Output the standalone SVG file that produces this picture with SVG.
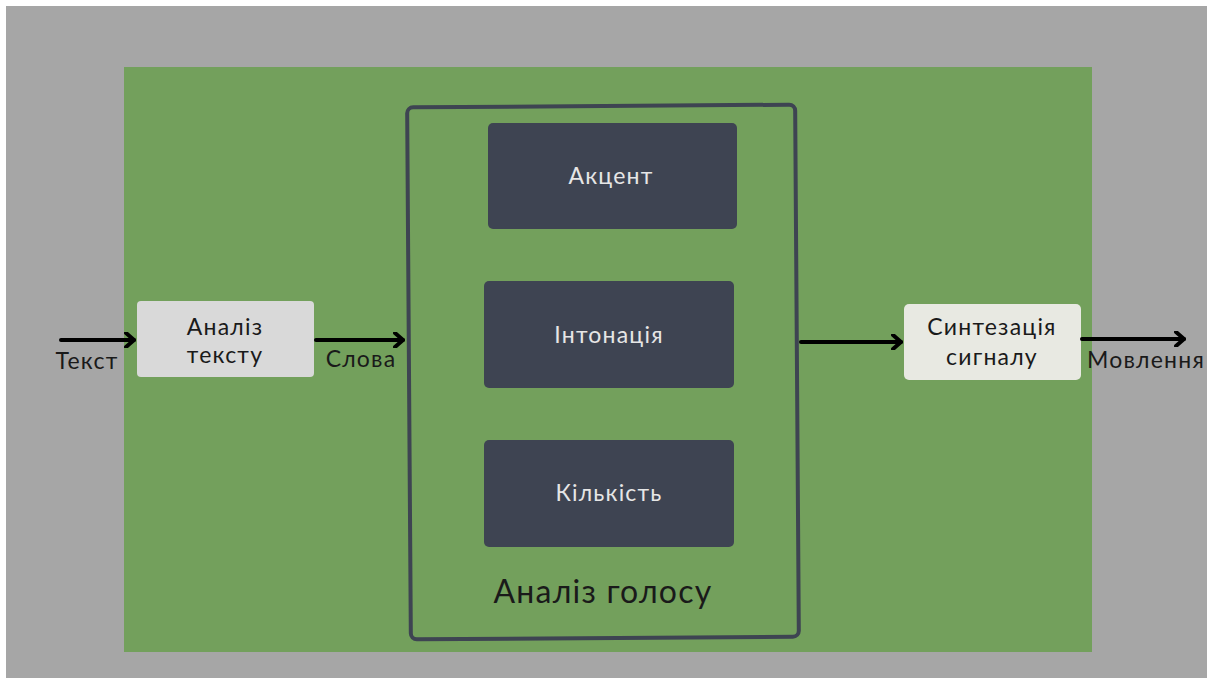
<svg xmlns="http://www.w3.org/2000/svg" width="1207" height="678" viewBox="0 0 1207 678">
  <style>
    .lbl { font-family: Lato, "Open Sans", "Liberation Sans", sans-serif; font-size: 23px; letter-spacing: 1.2px; text-anchor: middle; }
    .dark { fill: #1a1a1a; }
    .light { fill: #e6e6e6; }
    .inner { fill: #3e4452; }
    .wire { fill: none; stroke: #000; stroke-width: 4; stroke-linecap: round; stroke-linejoin: round; }
  </style>
  <defs>
    <marker id="chev" viewBox="0 0 12 16" refX="10" refY="8" markerWidth="12" markerHeight="16" markerUnits="userSpaceOnUse" orient="auto">
      <polyline points="2,1 10,8 2,15" fill="none" stroke="#000" stroke-width="4" stroke-linecap="round" stroke-linejoin="round"/>
    </marker>
  </defs>

  <!-- page background -->
  <rect x="0" y="0" width="1207" height="678" fill="#ffffff"/>
  <rect x="6" y="6" width="1201" height="672" fill="#a6a6a6"/>
  <rect x="124" y="67" width="968" height="585" fill="#73a05c"/>

  <!-- voice analysis frame -->
  <g id="voice-analysis">
    <rect x="409" y="106" width="388" height="532" rx="6" fill="none" stroke="#3e4452" stroke-width="4" transform="rotate(-0.4 603 372)"/>
    <text class="lbl dark" x="603" y="603" style="font-size:32px">Аналіз голосу</text>
  </g>

  <g id="accent">
    <rect class="inner" x="488" y="123" width="249" height="106" rx="5"/>
    <text class="lbl light" x="611" y="184">Акцент</text>
  </g>

  <g id="intonation">
    <rect class="inner" x="484" y="281" width="250" height="107" rx="5"/>
    <text class="lbl light" x="609" y="343">Інтонація</text>
  </g>

  <g id="quantity">
    <rect class="inner" x="484" y="440" width="250" height="107" rx="5"/>
    <text class="lbl light" x="609" y="501">Кількість</text>
  </g>

  <g id="text-analysis">
    <rect x="137" y="301" width="177" height="76" rx="4" fill="#d9d9d9"/>
    <text class="lbl dark" x="225" y="335">Аналіз</text>
    <text class="lbl dark" x="225" y="363">тексту</text>
  </g>

  <g id="signal-synthesis">
    <rect x="904" y="304" width="177" height="76" rx="5" fill="#e8e9e2"/>
    <text class="lbl dark" x="992" y="335">Синтезація</text>
    <text class="lbl dark" x="992" y="365">сигналу</text>
  </g>

  <!-- connectors -->
  <g id="connectors">
    <line class="wire" x1="61" y1="340" x2="134" y2="340" marker-end="url(#chev)"/>
    <line class="wire" x1="316" y1="340" x2="403" y2="340" marker-end="url(#chev)"/>
    <line class="wire" x1="801" y1="342" x2="901" y2="342" marker-end="url(#chev)"/>
    <line class="wire" x1="1082" y1="339" x2="1184" y2="339" marker-end="url(#chev)"/>
  </g>

  <!-- flow labels -->
  <text class="lbl dark" x="87" y="369">Текст</text>
  <text class="lbl dark" x="361" y="367">Слова</text>
  <text class="lbl dark" x="1146" y="368">Мовлення</text>
</svg>
